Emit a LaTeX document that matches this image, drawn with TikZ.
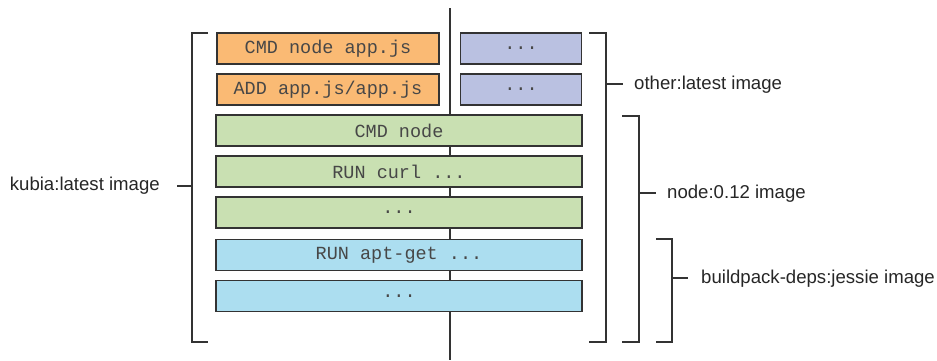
\documentclass[tikz,border=0pt]{standalone}
\usepackage{fontspec}
\setmainfont{Liberation Sans}
\newfontfamily\monofont{Liberation Mono}
\definecolor{orangefill}{RGB}{250,186,116}
\definecolor{lavfill}{RGB}{186,193,225}
\definecolor{greenfill}{RGB}{201,224,178}
\definecolor{bluefill}{RGB}{172,222,240}
\definecolor{edge}{RGB}{51,51,51}
\begin{document}
\begin{tikzpicture}[x=1pt,y=-1pt,
  layer/.style={draw=edge,line width=1.1pt,inner sep=0pt,font=\monofont\fontsize{18.5}{18.5}\selectfont,text=edge!90},
  lbl/.style={font=\fontsize{18.6}{18.6}\selectfont,text=black!85,inner sep=0pt},
  brk/.style={draw=edge,line width=1.1pt}]
\useasboundingbox (0,0) rectangle (937,360);
% central line
\draw[brk] (450,8) -- (450,360);
% layers
\node[layer,fill=orangefill,minimum width=222pt,minimum height=31pt] (cmdapp) at (328,48.5) {CMD node app.js};
\node[layer,fill=orangefill,minimum width=222pt,minimum height=31pt] (addapp) at (328,89.5) {ADD app.js/app.js};
\node[layer,fill=lavfill,minimum width=121pt,minimum height=31pt] (oth1) at (521,48.5) {...};
\node[layer,fill=lavfill,minimum width=121pt,minimum height=31pt] (oth2) at (521,89.5) {...};
\node[layer,fill=greenfill,minimum width=366pt,minimum height=31pt] (cmdnode) at (399,130.5) {CMD node};
\node[layer,fill=greenfill,minimum width=366pt,minimum height=31pt] (runcurl) at (399,171.5) {RUN curl ...};
\node[layer,fill=greenfill,minimum width=366pt,minimum height=31pt] (gdots) at (399,212.5) {...};
\node[layer,fill=bluefill,minimum width=366pt,minimum height=31pt] (aptget) at (399,255) {RUN apt-get ...};
\node[layer,fill=bluefill,minimum width=366pt,minimum height=31pt] (bdots) at (399,296) {...};
% left bracket
\draw[brk] (208,33) -- (192,33) -- (192,342) -- (208,342);
\coordinate (lk) at (192,186);
\node[lbl,anchor=east] (kubia) at (160,186) {kubia:latest image};
\draw[brk] (lk) -- ([xshift=-15pt]lk);
% other bracket
\draw[brk] (589,33) -- (606,33) -- (606,342) -- (589,342);
\coordinate (ok) at (606,84);
\node[lbl,anchor=west] (other) at (634,85) {other:latest image};
\draw[brk] (ok) -- (623,84);
% node bracket
\draw[brk] (622,116) -- (639,116) -- (639,342) -- (622,342);
\coordinate (nk) at (639,193);
\node[lbl,anchor=west] (nodeimg) at (667,194) {node:0.12 image};
\draw[brk] (nk) -- (656,193);
% buildpack bracket
\draw[brk] (656,239) -- (672,239) -- (672,342) -- (656,342);
\coordinate (bk) at (672,278);
\node[lbl,anchor=west] (bp) at (701,279) {buildpack-deps:jessie image};
\draw[brk] (bk) -- (688,278);
\end{tikzpicture}
\end{document}
